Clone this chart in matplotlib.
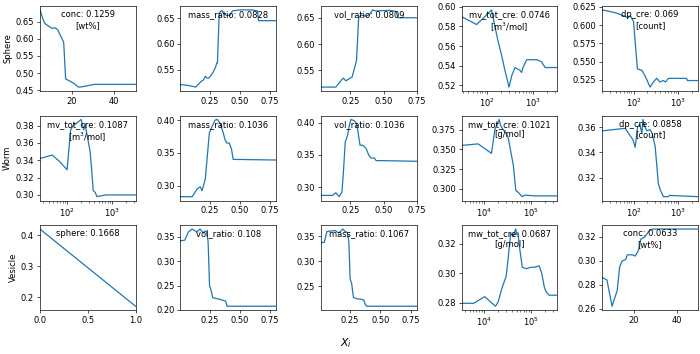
import matplotlib
matplotlib.use("Agg")
import matplotlib.pyplot as plt
import numpy as np

# ---------------- data ----------------
row_labels = ["Sphere", "Worm", "Vesicle"]

# Row 1 : Sphere
s_conc_x = [5, 6.2, 7.0, 7.6, 10.4, 12.4, 13.5, 14.2, 15.1, 16.2, 17.1, 21, 23.1, 25, 30.6, 50]
s_conc_y = [0.684, 0.662, 0.648, 0.643, 0.631, 0.631, 0.625, 0.615, 0.604, 0.589, 0.483, 0.470, 0.459, 0.460, 0.467, 0.467]

s_mass_x = [0.01, 0.08, 0.137, 0.16, 0.18, 0.20, 0.215, 0.226, 0.24, 0.26, 0.28, 0.30, 0.31, 0.315, 0.33, 0.35, 0.37, 0.395, 0.42, 0.44, 0.50, 0.60, 0.645, 0.655, 0.80]
s_mass_y = [0.521, 0.519, 0.516, 0.522, 0.527, 0.530, 0.537, 0.534, 0.533, 0.538, 0.545, 0.555, 0.563, 0.563, 0.660, 0.665, 0.658, 0.655, 0.656, 0.664, 0.666, 0.666, 0.664, 0.645, 0.645]

s_vol_x = [0.03, 0.141, 0.179, 0.197, 0.217, 0.242, 0.263, 0.288, 0.297, 0.313, 0.33, 0.369, 0.394, 0.419, 0.439, 0.545, 0.596, 0.608, 0.75]
s_vol_y = [0.518, 0.518, 0.530, 0.535, 0.530, 0.534, 0.537, 0.560, 0.570, 0.650, 0.655, 0.653, 0.656, 0.665, 0.663, 0.664, 0.662, 0.650, 0.650]

s_mv_x = [28.6, 60, 90, 126, 142, 174, 209, 245, 300, 345, 405, 520, 560, 600, 720, 1200, 1500, 1800, 3300]
s_mv_y = [0.590, 0.582, 0.590, 0.597, 0.585, 0.565, 0.550, 0.535, 0.518, 0.530, 0.538, 0.535, 0.533, 0.538, 0.546, 0.546, 0.544, 0.538, 0.538]

s_dp_x = [20, 40, 65, 75, 85, 100, 122, 154, 182, 235, 278, 330, 390, 465, 520, 600, 1540, 1600, 2750]
s_dp_y = [0.621, 0.617, 0.612, 0.610, 0.613, 0.605, 0.540, 0.538, 0.530, 0.515, 0.522, 0.527, 0.522, 0.524, 0.522, 0.527, 0.527, 0.524, 0.524]

# Row 2 : Worm
w_mv_x = [25, 47, 70, 100, 120, 138, 185, 205, 235, 250, 280, 325, 350, 380, 420, 460, 720, 3300]
w_mv_y = [0.342, 0.346, 0.338, 0.329, 0.375, 0.380, 0.385, 0.387, 0.375, 0.382, 0.368, 0.350, 0.330, 0.305, 0.303, 0.298, 0.300, 0.300]

w_mass_x = [0.01, 0.107, 0.148, 0.174, 0.188, 0.215, 0.234, 0.248, 0.27, 0.296, 0.315, 0.337, 0.364, 0.378, 0.392, 0.413, 0.432, 0.445, 0.80]
w_mass_y = [0.283, 0.283, 0.295, 0.298, 0.292, 0.310, 0.350, 0.380, 0.390, 0.400, 0.401, 0.395, 0.380, 0.370, 0.365, 0.365, 0.355, 0.340, 0.339]

w_vol_x = [0.03, 0.116, 0.141, 0.166, 0.187, 0.197, 0.212, 0.229, 0.242, 0.255, 0.28, 0.293, 0.305, 0.323, 0.343, 0.369, 0.388, 0.406, 0.432, 0.444, 0.494, 0.75]
w_vol_y = [0.287, 0.287, 0.291, 0.285, 0.292, 0.320, 0.370, 0.380, 0.395, 0.405, 0.403, 0.400, 0.390, 0.365, 0.365, 0.360, 0.350, 0.345, 0.345, 0.341, 0.341, 0.340]

w_mw_x = [3400, 7560, 14600, 17200, 21300, 23000, 25900, 30000, 33000, 42500, 48000, 55000, 65000, 76000, 120000, 365000]
w_mw_y = [0.355, 0.357, 0.345, 0.375, 0.388, 0.380, 0.375, 0.370, 0.365, 0.330, 0.298, 0.295, 0.290, 0.292, 0.291, 0.291]

w_dp_x = [20, 65, 97, 109, 123, 138, 154, 162, 180, 200, 235, 260, 304, 360, 400, 465, 600, 640, 2750]
w_dp_y = [0.357, 0.359, 0.350, 0.344, 0.360, 0.362, 0.355, 0.366, 0.360, 0.357, 0.358, 0.355, 0.345, 0.315, 0.310, 0.305, 0.305, 0.306, 0.305]

# Row 3 : Vesicle
v_sph_x = [0.0, 1.0]
v_sph_y = [0.420, 0.171]

v_vol_x = [0.01, 0.045, 0.075, 0.105, 0.145, 0.172, 0.198, 0.212, 0.226, 0.238, 0.25, 0.263, 0.276, 0.33, 0.355, 0.383, 0.395, 0.80]
v_vol_y = [0.342, 0.343, 0.360, 0.366, 0.360, 0.366, 0.358, 0.362, 0.360, 0.340, 0.250, 0.240, 0.225, 0.222, 0.220, 0.218, 0.2075, 0.2075]

v_mass_x = [0.01, 0.036, 0.058, 0.127, 0.154, 0.168, 0.19, 0.209, 0.227, 0.239, 0.25, 0.263, 0.277, 0.304, 0.345, 0.364, 0.372, 0.386, 0.80]
v_mass_y = [0.338, 0.338, 0.360, 0.362, 0.357, 0.360, 0.365, 0.360, 0.358, 0.340, 0.265, 0.255, 0.228, 0.225, 0.224, 0.222, 0.215, 0.210, 0.210]

v_mw_x = [3400, 6100, 10500, 17700, 20000, 24500, 30000, 33000, 37300, 42000, 47700, 51000, 54000, 56000, 66000, 80000, 100000, 120000, 150000, 170000, 195000, 215000, 245000, 365000]
v_mw_y = [0.2795, 0.2795, 0.284, 0.2775, 0.280, 0.290, 0.298, 0.310, 0.327, 0.325, 0.330, 0.326, 0.327, 0.320, 0.304, 0.303, 0.304, 0.304, 0.305, 0.300, 0.290, 0.287, 0.285, 0.285]

v_conc_x = [5, 7.2, 9.6, 12, 13.2, 14.4, 16, 16.8, 19.2, 20.5, 21.5, 22.3, 23.1, 25, 27, 28.7, 50]
v_conc_y = [0.286, 0.284, 0.262, 0.275, 0.295, 0.300, 0.301, 0.305, 0.305, 0.304, 0.307, 0.310, 0.318, 0.320, 0.325, 0.3266, 0.3266]

labels = [
    ["conc: 0.1259\n[wt%]", "mass_ratio: 0.0828", "vol_ratio: 0.0809",
     "mv_tot_cre: 0.0746\n[m$^3$/mol]", "dp_cre: 0.069\n[count]"],
    ["mv_tot_cre: 0.1087\n[m$^3$/mol]", "mass_ratio: 0.1036", "vol_ratio: 0.1036",
     "mw_tot_cre: 0.1021\n[g/mol]", "dp_cre: 0.0858\n[count]"],
    ["sphere: 0.1668", "vol_ratio: 0.108", "mass_ratio: 0.1067",
     "mw_tot_cre: 0.0687\n[g/mol]", "conc: 0.0633\n[wt%]"],
]

series = [
    [(s_conc_x, s_conc_y, False), (s_mass_x, s_mass_y, False), (s_vol_x, s_vol_y, False),
     (s_mv_x, s_mv_y, True), (s_dp_x, s_dp_y, True)],
    [(w_mv_x, w_mv_y, True), (w_mass_x, w_mass_y, False), (w_vol_x, w_vol_y, False),
     (w_mw_x, w_mw_y, True), (w_dp_x, w_dp_y, True)],
    [(v_sph_x, v_sph_y, False), (v_vol_x, v_vol_y, False), (v_mass_x, v_mass_y, False),
     (v_mw_x, v_mw_y, True), (v_conc_x, v_conc_y, False)],
]

# ---------------- plot ----------------
fig, axes = plt.subplots(3, 5, figsize=(700 / 60, 354 / 60), dpi=60)
fig.subplots_adjust(left=0.057, right=0.997, top=0.983, bottom=0.124,
                    wspace=0.47, hspace=0.29)

for r in range(3):
    for c in range(5):
        ax = axes[r, c]
        x, y, logx = series[r][c]
        ax.plot(x, y, color="#1f77b4")
        if logx:
            ax.set_xscale("log")
        ax.set_xlim(x[0], x[-1])
        ax.text(0.5, 0.95, labels[r][c], transform=ax.transAxes,
                ha="center", va="top")
    axes[r, 0].set_ylabel(row_labels[r])

fig.text(0.494, 1 - 343 / 354, "$X_i$", ha="center", va="center", fontsize=13)

fig.savefig("out.png", dpi=60)
